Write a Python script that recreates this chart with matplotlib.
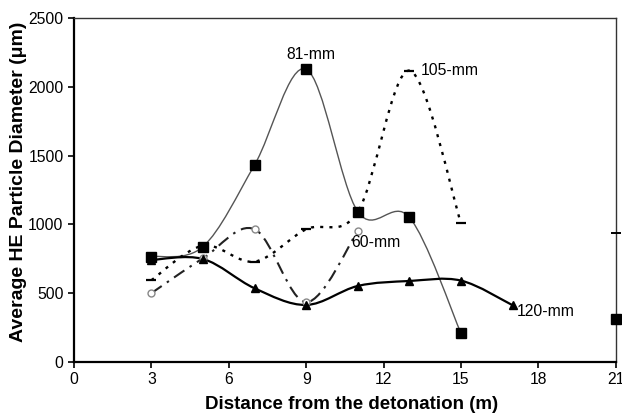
import numpy as np
import matplotlib
matplotlib.use("Agg")
import matplotlib.pyplot as plt
from matplotlib.path import Path
from matplotlib.patches import PathPatch

plt.rcParams["font.family"] = ["Liberation Sans", "DejaVu Sans"]

# values (distance m, diameter um)
X_TICKS = [0, 3, 6, 9, 12, 15, 18, 21]
Y_TICKS = [0, 500, 1000, 1500, 2000, 2500]

D81 = [3, 5, 7, 9, 11, 13, 15]
Y81 = [765, 838, 1432, 2127, 1092, 1051, 208]
D105 = [3, 5, 7, 9, 11, 13, 15]
Y105 = [594, 845, 729, 964, 1090, 2117, 1008]
D60 = [3, 5, 7, 9, 11]
Y60 = [500, 753, 964, 434, 952]
D120 = [3, 5, 7, 9, 11, 13, 15, 17]
Y120 = [741, 748, 535, 414, 552, 588, 591, 412]
# lone points on the right edge
LONE_SQ_X, LONE_SQ_Y = [21], [310]
LONE_DASH_X, LONE_DASH_Y = [21], [935]


def smooth_path(xs, ys):
    """excel-style smoothed line: catmull-rom as cubic beziers"""
    P = np.column_stack([xs, ys]).astype(float)
    ext = np.vstack([P[0], P, P[-1]])
    verts = [P[0]]; codes = [Path.MOVETO]
    for i in range(len(P) - 1):
        p0, p1, p2, p3 = ext[i], ext[i + 1], ext[i + 2], ext[i + 3]
        verts += [p1 + (p2 - p0) / 6, p2 - (p3 - p1) / 6, p2]
        codes += [Path.CURVE4] * 3
    return Path(verts, codes)


def main():
    fig = plt.figure(figsize=(6.22, 4.16), dpi=100)
    ax = fig.add_axes([0.119, 0.130, 0.871, 0.827])

    ax.add_patch(PathPatch(smooth_path(D81, Y81), fill=False, ec="#555555", lw=1.0, zorder=2))
    ax.add_patch(PathPatch(smooth_path(D105, Y105), fill=False, ec="black", lw=1.7,
                           ls=(0, (1.3, 2.6)), zorder=2))
    ax.add_patch(PathPatch(smooth_path(D60, Y60), fill=False, ec="#222222", lw=1.5,
                           ls=(0, (6, 3, 1.2, 3)), zorder=2))
    ax.add_patch(PathPatch(smooth_path(D120, Y120), fill=False, ec="black", lw=1.6, zorder=2))

    ax.plot(D81, Y81, ls="none", marker="s", ms=6.5, color="black", zorder=4)
    ax.plot(LONE_SQ_X, LONE_SQ_Y, ls="none", marker="s", ms=6.5, color="black", zorder=4, clip_on=False)
    ax.plot(D105, Y105, ls="none", marker="_", ms=7, mew=1.6, color="black", zorder=3)
    ax.plot(LONE_DASH_X, LONE_DASH_Y, ls="none", marker="_", ms=7, mew=1.4, color="black",
            zorder=3, clip_on=False)
    ax.plot(D60, Y60, ls="none", marker="o", ms=5, mfc="white", mec="#888888", mew=1.0, zorder=3)
    ax.plot(D120, Y120, ls="none", marker="^", ms=6, color="black", zorder=4)

    ax.text(9.2, 2235, "81-mm", fontsize=11.3, ha="center", va="center")
    ax.text(13.45, 2115, "105-mm", fontsize=11.3, ha="left", va="center")
    ax.text(10.75, 865, "60-mm", fontsize=11.3, ha="left", va="center")
    ax.text(17.15, 365, "120-mm", fontsize=11.3, ha="left", va="center")

    ax.set_xlim(0, 21); ax.set_ylim(0, 2500)
    ax.set_xticks(X_TICKS); ax.set_yticks(Y_TICKS)
    ax.tick_params(labelsize=11.3, direction="out", length=4, width=1.2)
    for s in ("left", "bottom"):
        ax.spines[s].set_linewidth(1.6)
    for s in ("top", "right"):
        ax.spines[s].set_linewidth(1.0); ax.spines[s].set_color("#333333")
    ax.set_xlabel("Distance from the detonation (m)", fontsize=13.5, fontweight="bold")
    ax.xaxis.set_label_coords(0.513, -0.100)
    ax.set_ylabel("Average HE Particle Diameter (\u03bcm)", fontsize=14, fontweight="bold")
    ax.yaxis.set_label_coords(-0.087, 0.523)

    fig.savefig("out.png", dpi=100)


if __name__ == "__main__":
    main()
